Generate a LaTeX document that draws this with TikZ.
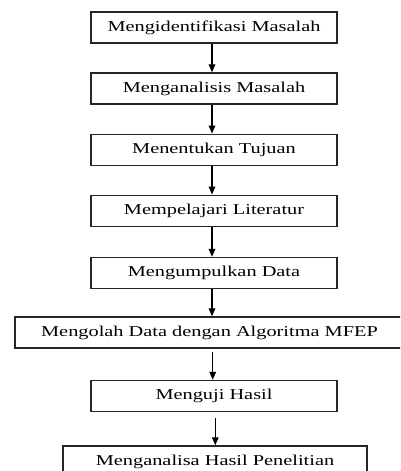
\documentclass[tikz,border=0pt]{standalone}
\usepackage{fontspec}
\setmainfont{Liberation Serif}
\usetikzlibrary{arrows.meta,calc}
\newcommand{\wide}[1]{\scalebox{1.35}[1]{#1}}
\tikzset{
  box/.style={draw=black!85, line width=0.95pt, rectangle, inner sep=0pt,
    minimum height=23.4pt, font=\fontsize{11.3}{13}\selectfont},
  arr/.style={line width=0.9pt, -{Triangle[width=5pt,length=6pt]}}
}
\begin{document}
\begin{tikzpicture}[x=0.75pt,y=-0.75pt]
\useasboundingbox (0,0) rectangle (400,471);
\clip (0,0) rectangle (400,471);
\node[box, minimum width=184.5pt] (b1) at (214,27.5) {\wide{Mengidentifikasi Masalah}};
\node[box, minimum width=184.5pt] (b2) at (214,88.5) {\wide{Menganalisis Masalah}};
\node[box, minimum width=184.5pt] (b3) at (214,149.75) {\wide{Menentukan Tujuan}};
\node[box, minimum width=184.5pt] (b4) at (214,210.75) {\wide{Mempelajari Literatur}};
\node[box, minimum width=184.5pt] (b5) at (214,273) {\wide{Mengumpulkan Data}};
\node[box, minimum width=291.75pt] (b6) at (209.5,332.5) {\wide{Mengolah Data dengan Algoritma MFEP}};
\node[box, minimum width=184.5pt] (b7) at (214,396) {\wide{Menguji Hasil}};
\node[box, minimum width=228pt] (b8) at (215,461.5) {\wide{Menganalisa Hasil Penelitian}};
\coordinate (ax) at (212,0);
\coordinate (ay) at (212.7,0);
\coordinate (az) at (215.3,0);
\draw[arr] (b1.south -| ax) -- (b2.north -| ax);
\draw[arr] (b2.south -| ax) -- (b3.north -| ax);
\draw[arr] (b3.south -| ax) -- (b4.north -| ax);
\draw[arr] (b4.south -| ax) -- (b5.north -| ax);
\draw[arr] (b5.south -| ax) -- (b6.north -| ax);
\draw[arr] ($(b6.south -| ay)+(0,3)$) -- (b7.north -| ay);
\draw[arr] ($(b7.south -| az)+(0,6)$) -- (b8.north -| az);
\end{tikzpicture}
\end{document}
